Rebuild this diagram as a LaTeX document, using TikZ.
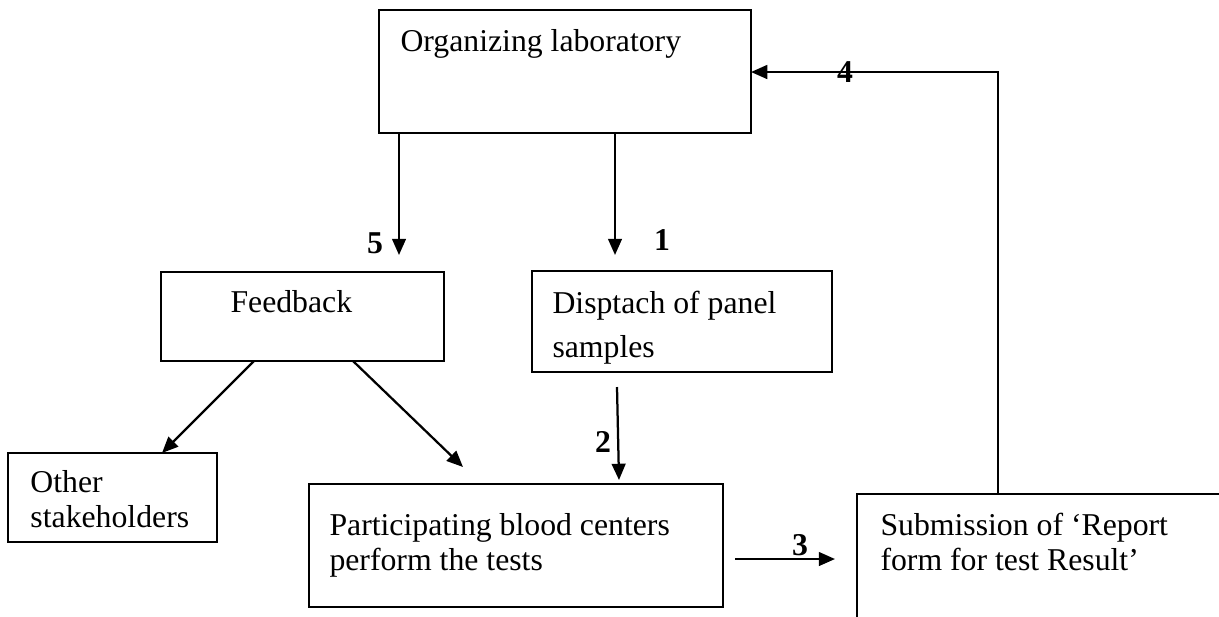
\documentclass[tikz,border=0pt]{standalone}
\usepackage{fontspec}
\setmainfont{Liberation Serif}
\usepackage{tikz}
\usetikzlibrary{arrows.meta}

\tikzset{
	box/.style={draw, line width=0.8pt, anchor=north west, inner sep=0pt, outer sep=0pt},
	txt/.style={anchor=base west, inner sep=0pt, align=left, font=\fontsize{12.7}{14}\selectfont},
	num/.style={inner sep=0pt, font=\fontsize{12.7}{14}\selectfont\bfseries},
	arr/.style={-{Triangle[length=6.5pt,width=5.5pt]}, line width=0.9pt}
}

\begin{document}
\begin{tikzpicture}[x=0.4pt,y=-0.4pt]
		\clip (0,0) rectangle (1219,616);
		
		\node[box, minimum width=148.8pt, minimum height=49.2pt] (lab) at (379,10) {};
		\node[box, minimum width=113.2pt, minimum height=35.6pt] (fb) at (161,272) {};
		\node[box, minimum width=120pt, minimum height=40.4pt] (disp) at (532,271) {};
		\node[box, minimum width=83.6pt, minimum height=35.6pt] (other) at (8,453) {};
		\node[box, minimum width=165.6pt, minimum height=49.2pt] (part) at (309,484) {};
		\node[box, minimum width=160pt, minimum height=80pt] (sub) at (857,494) {};
		
		\node[txt] (labtxt) at (400,51) {Organizing laboratory};
		\node[txt] (fbtxt) at (230,312) {Feedback};
		\node[txt] (disptxt) at (552,357) {Disptach of panel\\[3.6pt]samples};
		\node[txt] (othertxt) at (30,527) {Other\\stakeholders};
		\node[txt] (parttxt) at (329,570) {Participating blood centers\\perform the tests};
		\node[txt] (subtxt) at (880,570) {Submission of ‘Report\\form for test Result’};
		
		\coordinate (t5) at (399,255);
		\coordinate (t1) at (615,255);
		\coordinate (s2) at (617,387);
		\coordinate (t2) at (619,480);
		\coordinate (s3) at (735,559);
		\coordinate (t3) at (835,559);
		\coordinate (c4) at (998,72);
		\coordinate (t6) at (463,467);
		
		\draw[arr] (lab.south -| t5) -- (t5);
		\draw[arr] (lab.south -| t1) -- (t1);
		\draw[arr] (s2) -- (t2);
		\draw[arr] (s3) -- (t3);
		\draw[arr] (c4 |- sub.north) -- (c4) -- (lab.east |- c4);
		\draw[arr] ([shift={(93,0)}]fb.south west) -- ([shift={(154,0)}]other.north west);
		\draw[arr] ([shift={(192,0)}]fb.south west) -- (t6);
		
		\node[num] (n1) at (662,240) {1};
		\node[num] (n2) at (603,442) {2};
		\node[num] (n3) at (800,545) {3};
		\node[num] (n4) at (845,72) {4};
		\node[num] (n5) at (375,243) {5};
	\end{tikzpicture}
\end{document}
